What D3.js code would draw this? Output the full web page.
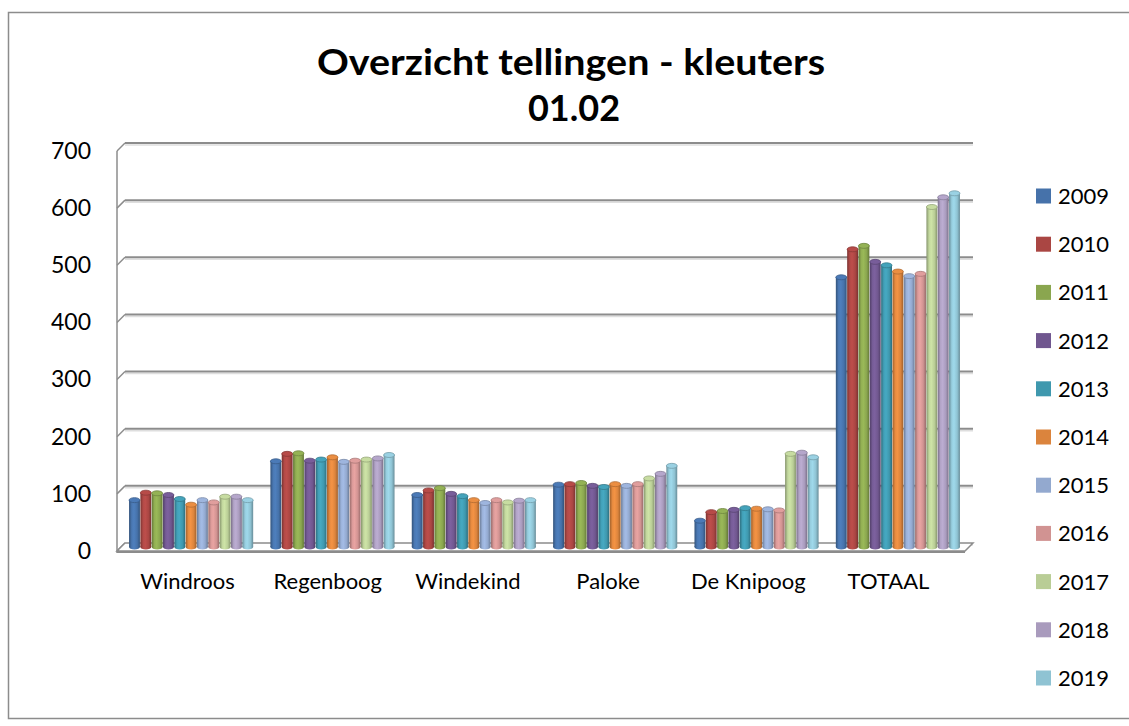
<!DOCTYPE html>
<html>
<head>
<meta charset="utf-8">
<script src="https://cdn.jsdelivr.net/npm/d3@7/dist/d3.min.js"></script>
<style>
  body { margin: 0; background: #fff; }
  svg { display: block; font-family: Lato, "Open Sans", sans-serif; }
</style>
</head>
<body>
<div id="chart"></div>
<script>
const categories = ["Windroos", "Regenboog", "Windekind", "Paloke", "De Knipoog", "TOTAAL"];
const years = ["2009", "2010", "2011", "2012", "2013", "2014", "2015", "2016", "2017", "2018", "2019"];
const yTicks = [0, 100, 200, 300, 400, 500, 600, 700];

// one array per year, in category order
const v2009 = [82, 150, 91, 109, 46, 472];
const v2010 = [95, 163, 99, 110, 61, 521];
const v2011 = [94, 164, 103, 112, 63, 527];
const v2012 = [91, 151, 93, 107, 65, 499];
const v2013 = [84, 153, 89, 105, 68, 493];
const v2014 = [74, 157, 82, 110, 67, 482];
const v2015 = [82, 149, 77, 107, 66, 474];
const v2016 = [78, 151, 82, 110, 64, 478];
const v2017 = [88, 153, 78, 120, 163, 595];
const v2018 = [88, 155, 81, 128, 165, 612];
const v2019 = [82, 161, 82, 142, 157, 619];
const seriesValues = [v2009, v2010, v2011, v2012, v2013, v2014, v2015, v2016, v2017, v2018, v2019];

const colors = ["#4672aa", "#aa4643", "#8aa64f", "#70578f", "#3f98ae", "#db843d",
                "#93a9cf", "#d19392", "#b9cd96", "#a99bbd", "#8fc3d3"];

const width = 1129, height = 726;
const depth = 8; // 3d offset between front and back planes

const svg = d3.select("#chart").append("svg")
  .attr("width", width)
  .attr("height", height);

// chart border
svg.append("rect")
  .attr("x", 8.5).attr("y", 12.5)
  .attr("width", 1140).attr("height", 706)
  .attr("fill", "none").attr("stroke", "#8c8c8c").attr("stroke-width", 1.5);

// title
const title = svg.append("text")
  .attr("text-anchor", "middle")
  .attr("font-weight", "bold")
  .attr("font-size", 36)
  .attr("fill", "#000");
title.append("tspan").attr("x", 571).attr("y", 75)
  .attr("textLength", 508).attr("lengthAdjust", "spacingAndGlyphs")
  .text("Overzicht tellingen - kleuters");
title.append("tspan").attr("x", 574).attr("y", 121).text("01.02");

// scales: back wall, bar mid-plane, front plane
const yBack = d3.scaleLinear().domain([0, 700]).range([543, 143]);
const yBar = d3.scaleLinear().domain([0, 700]).range([547, 147]);
const yFront = d3.scaleLinear().domain([0, 700]).range([551, 151]);

const backLeft = 125, backRight = 973;
const frontLeft = backLeft - depth, frontRight = backRight - depth;

const x0 = d3.scaleBand().domain(categories)
  .range([121, 968]).paddingInner(0.122).paddingOuter(0.057);
const x1 = d3.scaleBand().domain(years)
  .range([0, x0.bandwidth()]).paddingInner(0.04);
const xLabel = d3.scaleBand().domain(categories)
  .range([118, 958]).paddingInner(0.122).paddingOuter(0.057);

// back wall gridlines
const grid = svg.append("g");
grid.selectAll("line.shadow").data(yTicks).join("line")
  .attr("class", "shadow")
  .attr("x1", backLeft).attr("x2", backRight)
  .attr("y1", d => yBack(d) + 2).attr("y2", d => yBack(d) + 2)
  .attr("stroke", "#dedede").attr("stroke-width", 1.5);
grid.selectAll("line.main").data(yTicks.filter(d => d > 0)).join("line")
  .attr("class", "main")
  .attr("x1", backLeft).attr("x2", backRight)
  .attr("y1", d => yBack(d)).attr("y2", d => yBack(d))
  .attr("stroke", "#8c8c8c").attr("stroke-width", 2);
// side wall ticks
grid.selectAll("line.side").data(yTicks).join("line")
  .attr("class", "side")
  .attr("x1", frontLeft).attr("x2", backLeft)
  .attr("y1", d => yFront(d)).attr("y2", d => yBack(d))
  .attr("stroke", "#8c8c8c").attr("stroke-width", 1.5);

// floor
svg.append("path")
  .attr("d", `M${frontLeft},${yFront(0)}L${frontRight},${yFront(0)}L${backRight},${yBack(0)}L${backLeft},${yBack(0)}Z`)
  .attr("fill", "#fff").attr("stroke", "#8c8c8c").attr("stroke-width", 1.5);
svg.append("line")
  .attr("x1", frontLeft).attr("x2", frontRight)
  .attr("y1", yFront(0) + 1).attr("y2", yFront(0) + 1)
  .attr("stroke", "#8c8c8c").attr("stroke-width", 2);

// vertical axis edge
svg.append("line")
  .attr("x1", frontLeft).attr("x2", frontLeft)
  .attr("y1", yFront(700)).attr("y2", yFront(0) + 2)
  .attr("stroke", "#8c8c8c").attr("stroke-width", 1.5);

// cylinder gradients
const defs = svg.append("defs");
colors.forEach((c, i) => {
  const base = d3.color(c);
  const g = defs.append("linearGradient").attr("id", "cyl" + i)
    .attr("x1", "0%").attr("x2", "100%").attr("y1", "0%").attr("y2", "0%");
  g.append("stop").attr("offset", "0%").attr("stop-color", base.darker(0.9));
  g.append("stop").attr("offset", "25%").attr("stop-color", base.brighter(0.15));
  g.append("stop").attr("offset", "45%").attr("stop-color", base.brighter(0.3));
  g.append("stop").attr("offset", "75%").attr("stop-color", base);
  g.append("stop").attr("offset", "100%").attr("stop-color", base.darker(0.9));
});

// bars
const barData = [];
seriesValues.forEach((vals, si) => {
  vals.forEach((v, ci) => barData.push({cat: categories[ci], year: years[si], si, v}));
});

const bars = svg.append("g").selectAll("g").data(barData).join("g")
  .attr("transform", d => `translate(${x0(d.cat) + x1(d.year)},0)`);
const bw = x1.bandwidth();
const ry = 2.5;

bars.append("ellipse")
  .attr("cx", bw / 2).attr("cy", yBar(0))
  .attr("rx", bw / 2).attr("ry", ry)
  .attr("fill", d => `url(#cyl${d.si})`);
bars.append("rect")
  .attr("x", 0).attr("width", bw)
  .attr("y", d => yBar(d.v))
  .attr("height", d => yBar(0) - yBar(d.v))
  .attr("fill", d => `url(#cyl${d.si})`);
bars.append("ellipse")
  .attr("cx", bw / 2).attr("cy", d => yBar(d.v))
  .attr("rx", bw / 2).attr("ry", ry)
  .attr("fill", d => d3.color(colors[d.si]).brighter(0.2))
  .attr("stroke", d => d3.color(colors[d.si]).darker(0.6))
  .attr("stroke-width", 0.8);

// y axis labels
svg.append("g")
  .attr("transform", "translate(91,0)")
  .call(d3.axisLeft(yFront).tickValues(yTicks).tickSize(0).tickPadding(0))
  .call(g => g.select(".domain").remove())
  .call(g => g.selectAll("text")
    .attr("font-size", 23).attr("font-family", "Lato, 'Open Sans', sans-serif")
    .attr("fill", "#000"));

// category labels
svg.append("g")
  .attr("transform", "translate(0,573)")
  .call(d3.axisBottom(xLabel).tickSize(0).tickPadding(0))
  .call(g => g.select(".domain").remove())
  .call(g => g.selectAll("text")
    .attr("font-size", 22).attr("font-family", "Lato, 'Open Sans', sans-serif")
    .attr("fill", "#000"));

// legend
const legend = svg.append("g").selectAll("g").data(years).join("g")
  .attr("transform", (d, i) => `translate(1036,${196 + i * 48.2})`);
legend.append("rect")
  .attr("x", 0).attr("y", -7.5).attr("width", 15).attr("height", 15)
  .attr("fill", (d, i) => colors[i]);
legend.append("text")
  .attr("x", 22).attr("dy", "0.36em")
  .attr("font-size", 22).attr("fill", "#000")
  .text(d => d);
</script>
</body>
</html>
